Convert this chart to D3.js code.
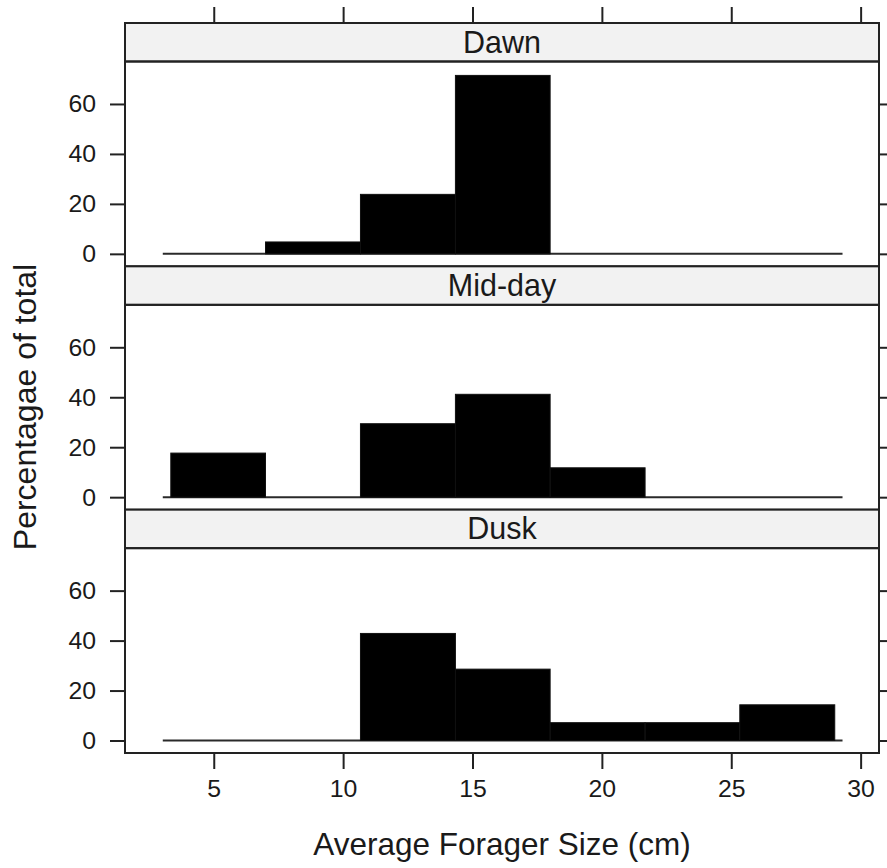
<!DOCTYPE html>
<html>
<head>
<meta charset="utf-8">
<script src="https://cdn.jsdelivr.net/npm/d3@7"></script>
<style>
  html, body { margin: 0; padding: 0; background: #fff; }
  svg { display: block; }
  text { font-family: "Liberation Sans", Arial, sans-serif; fill: #1a1a1a; }
</style>
</head>
<body>
<svg id="chart" width="887" height="868"></svg>
<script>
// Time-of-day groups, top to bottom
const periods = ["Dawn", "Mid-day", "Dusk"];

// Histogram bin edges (cm), equal-width bins
const binEdges = [3.34, 7.0, 10.67, 14.34, 18.0, 21.67, 25.33, 29.0];

// Percentage of foragers in each bin, one array per period
const dawnPct   = [0, 4.76, 23.81, 71.43, 0, 0, 0];
const middayPct = [17.65, 0, 29.41, 41.18, 11.76, 0, 0];
const duskPct   = [0, 0, 42.86, 28.57, 7.14, 7.14, 14.29];

// Extent of the zero reference line drawn under each histogram
const baselineSpan = [3.03, 29.3];

const xTicks = [5, 10, 15, 20, 25, 30];
const yTicks = [0, 20, 40, 60];

const xLabel = "Average Forager Size (cm)";
const yLabel = "Percentagae of total";

const seriesByPeriod = [dawnPct, middayPct, duskPct];

const svg = d3.select("#chart");

const plotLeft = 125, plotRight = 879, plotTopY = 23, plotBottomY = 753;
const rowH = (plotBottomY - plotTopY) / periods.length;
const stripH = 38.5;
const tickLen = 15;
const boxColor = "#222";
const fontStack = "'Liberation Sans', Arial, sans-serif";

const x = d3.scaleLinear().domain([1.57, 30.71]).range([plotLeft, plotRight]);

periods.forEach((name, i) => {
  const rowTop = plotTopY + i * rowH;
  const panelTop = rowTop + stripH;
  const panelBottom = rowTop + rowH;
  const y = d3.scaleLinear().domain([-5.0, 77.0]).range([panelBottom, panelTop]);
  const g = svg.append("g");

  // Zero line and bars (non-empty bins)
  const bins = seriesByPeriod[i].map((v, k) => ({ x0: binEdges[k], x1: binEdges[k + 1], v }));
  g.append("line")
    .attr("x1", x(baselineSpan[0])).attr("x2", x(baselineSpan[1]))
    .attr("y1", y(0)).attr("y2", y(0))
    .attr("stroke", "#2a2a2a").attr("stroke-width", 2);
  g.selectAll("rect.bar").data(bins.filter(d => d.v > 0)).enter().append("rect")
    .attr("class", "bar")
    .attr("x", d => x(d.x0))
    .attr("width", d => x(d.x1) - x(d.x0))
    .attr("y", d => y(d.v))
    .attr("height", d => y(0) - y(d.v))
    .attr("fill", "#000")
    .attr("stroke", "#111").attr("stroke-width", 1);

  // Strip
  g.append("rect")
    .attr("x", plotLeft).attr("y", rowTop)
    .attr("width", plotRight - plotLeft).attr("height", stripH)
    .attr("fill", "#f2f2f2").attr("stroke", boxColor).attr("stroke-width", 2);
  g.append("text")
    .attr("x", (plotLeft + plotRight) / 2).attr("y", rowTop + stripH / 2 + 10.5)
    .attr("text-anchor", "middle").attr("font-size", 30.5)
    .text(name);

  // Panel box
  g.append("rect")
    .attr("x", plotLeft).attr("y", panelTop)
    .attr("width", plotRight - plotLeft).attr("height", panelBottom - panelTop)
    .attr("fill", "none").attr("stroke", boxColor).attr("stroke-width", 2);

  // Left axis with labels
  const yl = g.append("g").attr("transform", `translate(${plotLeft},0)`)
    .call(d3.axisLeft(y).tickValues(yTicks).tickSize(tickLen).tickPadding(14).tickFormat(d3.format("d")));
  // Right axis, ticks only
  const yr = g.append("g").attr("transform", `translate(${plotRight},0)`)
    .call(d3.axisRight(y).tickValues(yTicks).tickSize(tickLen).tickFormat(""));
  [yl, yr].forEach(a => {
    a.select(".domain").remove();
    a.selectAll(".tick line").attr("stroke", boxColor).attr("stroke-width", 2);
    a.selectAll(".tick text").attr("font-size", 24.8).attr("fill", "#1a1a1a")
      .attr("font-family", fontStack);
  });
});

// Top x ticks (no labels)
const xt = svg.append("g").attr("transform", `translate(0,${plotTopY})`)
  .call(d3.axisTop(x).tickValues(xTicks).tickSize(tickLen + 1).tickFormat(""));
// Bottom x axis with labels
const xb = svg.append("g").attr("transform", `translate(0,${plotBottomY})`)
  .call(d3.axisBottom(x).tickValues(xTicks).tickSize(tickLen + 1).tickPadding(10).tickFormat(d3.format("d")));
[xt, xb].forEach(a => {
  a.select(".domain").remove();
  a.selectAll(".tick line").attr("stroke", boxColor).attr("stroke-width", 2);
  a.selectAll(".tick text").attr("font-size", 24.8).attr("fill", "#1a1a1a")
    .attr("font-family", fontStack);
});

// Axis titles
svg.append("text")
  .attr("x", (plotLeft + plotRight) / 2).attr("y", 855)
  .attr("text-anchor", "middle").attr("font-size", 31.5)
  .text(xLabel);
svg.append("text")
  .attr("transform", `translate(36,407) rotate(-90)`)
  .attr("text-anchor", "middle").attr("font-size", 32)
  .text(yLabel);
</script>
</body>
</html>
